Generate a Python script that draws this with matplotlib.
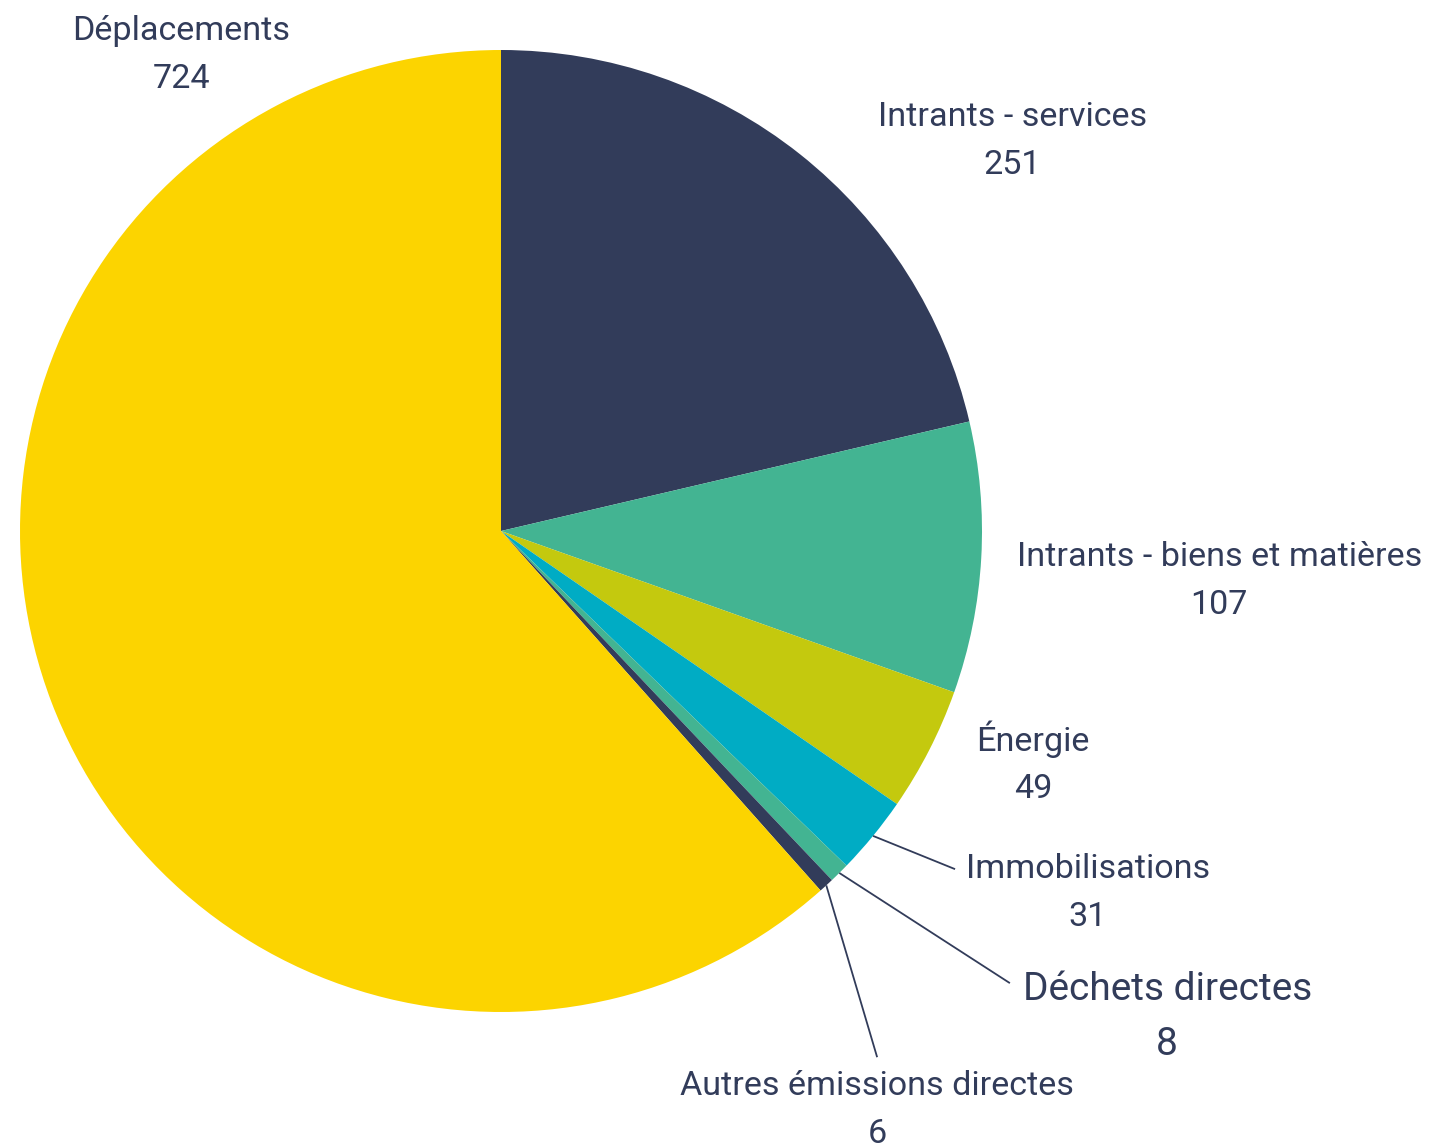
import numpy as np
import matplotlib.pyplot as plt

plt.rcParams['font.family'] = ['Roboto', 'DejaVu Sans']

categories = ['Intrants - services', 'Intrants - biens et matières', 'Énergie',
              'Immobilisations', 'Déchets directes', 'Autres émissions directes',
              'Déplacements']
values = [251, 107, 49, 31, 8, 6, 724]

colors = ['#323c5a', '#43b492', '#c4c90e', '#00acc4', '#43b492', '#323c5a', '#fcd400']
text_color = '#323c5a'

# label layout (centre of the two-line label, in pie radius units)
label_xy = [(1.063, 0.811), (1.493, -0.104), (1.106, -0.482), (1.220, -0.753),
            (1.385, -1.010), (0.782, -1.204), (-0.665, 0.990)]
label_size = [24.6, 24.6, 24.6, 24.6, 28, 24.6, 24.6]
# leader line end points for the thin slices (None = no line)
leader_end = [None, None, None, (0.944, -0.703), (1.058, -0.940), (0.782, -1.094), None]

W, H = 1432, 1146
fig = plt.figure(figsize=(W / 100, H / 100), dpi=100)
cx, cy, r = 501, 531, 481
ax = fig.add_axes([(cx - r) / W, (H - cy - r) / H, 2 * r / W, 2 * r / H])

wedges, _ = ax.pie(values, colors=colors, startangle=90, counterclock=False,
                   radius=1, wedgeprops=dict(linewidth=0))
ax.set_xlim(-1, 1)
ax.set_ylim(-1, 1)
ax.set_aspect('equal')
ax.set_axis_off()

for w, name, val, (lx, ly), fs, end in zip(wedges, categories, values,
                                           label_xy, label_size, leader_end):
    ax.text(lx, ly, f'{name}\n{val}', ha='center', va='center', fontsize=fs,
            color=text_color, linespacing=1.62, clip_on=False)
    if end is not None:
        mid = np.deg2rad((w.theta1 + w.theta2) / 2)
        ax.plot([np.cos(mid), end[0]], [np.sin(mid), end[1]], color=text_color,
                lw=1.3, clip_on=False, solid_capstyle='butt')

fig.savefig('out.png', dpi=100)
